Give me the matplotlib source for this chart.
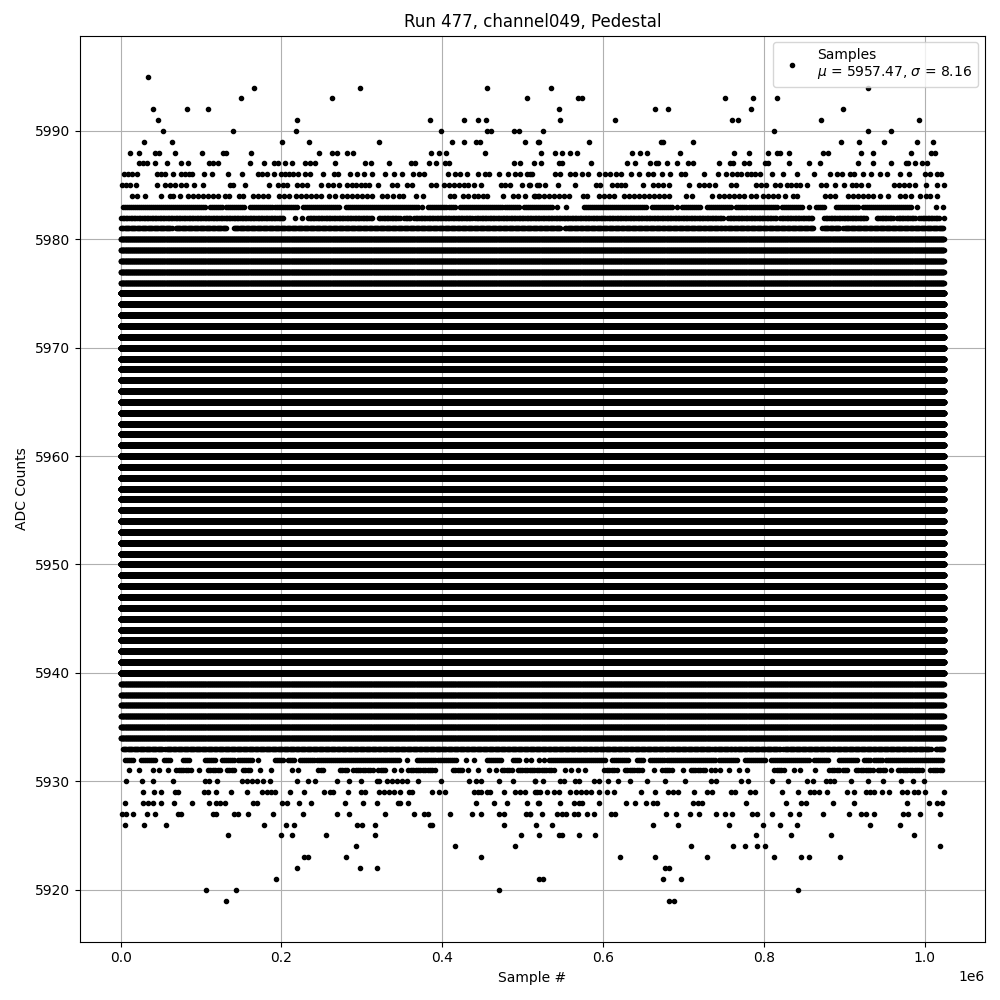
import numpy as np
import matplotlib
matplotlib.use("Agg")
import matplotlib.pyplot as plt

# Sample numbers in thousands, one list per ADC level.
s5995 = [33.7]
s5994 = [165.8, 298, 456, 535, 930]
s5993 = [149.6, 263, 505, 568.5, 573.5, 751.8, 786.7, 816.6]
s5992 = [40, 82.3, 108.5, 544.8, 664.5, 680.7, 784, 898.9]
s5991 = [46, 219.4, 385, 427.7, 445, 455, 547, 614.6, 760.5, 768, 871.5, 993.7]
s5990 = [52.4, 139.6, 218, 399, 456.3, 460.5, 488.7, 495, 525, 813, 930, 958.8]
s5989 = [28.7, 63.6, 200.7, 234.4, 321.7, 412.7, 427.7, 441.4, 447.6, 502.5, 518.7, 521,
         582, 671.6, 674.5, 712, 896.4, 919, 950, 990, 1010]
s5988 = [11.2, 22.4, 42.4, 47.4, 67.3, 101, 127.2, 130.5, 162, 247, 263, 269.3, 281.8, 289.3,
         386.5, 396.5, 405.2, 453.8, 522.4, 539.8, 548.6, 558.5, 567.3, 635.8, 645.8, 654.5,
         695.7, 763, 781.7, 805.4, 816.6, 820.4, 831.6, 874, 880, 921.4, 936.3, 983.7, 1008.6, 1012.4]
s5987 = [22.4, 27.4, 32.4, 42.4, 57.4, 74.8, 83.5, 109.7, 114.7, 121, 160.8, 178.3, 190.8, 195.7,
         204.5, 213.2, 229.4, 235.2, 241.9, 266.8, 304.2, 311.7, 334.1, 361.6, 366.6, 383.6, 392.7,
         404, 409, 489.6, 497, 513.7, 522.4, 544.8, 548.6, 584.7, 629.6, 639.6, 658.3, 665.8, 668.3,
         679.5, 692, 705.7, 712, 744.3, 758, 761.8, 775.5, 781.7, 801.7, 805.4, 831.6, 856.5, 870.2,
         917.6, 936.3, 958.8, 977.5, 980, 988.7, 997.4, 1003.6]
s5986 = [3.7, 8.7, 13.7, 20, 44.9, 49.9, 54.9, 64.8, 74.8, 79.8, 84.8, 88.5, 103.5, 113.5, 133.4,
         150.9, 170.8, 175.8, 182, 190.8, 199.5, 204.5, 209.5, 214.5, 220.7, 229.4, 235.6, 251.9,
         265.6, 270.6, 285.5, 294.2, 303, 313, 329.2, 340.4, 350.4, 364, 371.6, 377.8, 407.7, 416.4,
         422.7, 431.4, 443.9, 453.8, 458.8, 470, 481.3, 490, 496.2, 505.4, 509.5, 511.2, 539.8, 546,
         558.5, 564.8, 573.5, 581, 594.7, 602.2, 608.4, 615.9, 622.1, 634.6, 644.6, 655.8, 662, 673.2,
         683.2, 696.9, 701.9, 725.6, 743, 753, 760.5, 766.8, 771.7, 779.2, 784.2, 789.2, 795.4, 810.4,
         824, 841.6, 862.8, 882.7, 891.4, 897.7, 907.6, 912.6, 923.8, 933.8, 945, 953.8, 970, 981.2,
         1001, 1007.4, 1014.9, 1019.9]
s5985 = [1.2, 6.2, 11.2, 18.7, 44.9, 54.9, 61.1, 67.3, 74.8, 81, 91, 102.2, 135.9, 139.6, 154.6,
         184.5, 195.7, 202, 207, 219.4, 225.7, 231.9, 249.4, 258, 264.3, 271.8, 281.8, 288, 293,
         299.2, 304.2, 309.2, 320.4, 337.9, 344.1, 356.6, 362.8, 386.5, 392.7, 402.7, 409, 415.2,
         421.4, 427.7, 432.6, 440, 448.8, 472.5, 477.5, 483.8, 498.7, 507.4, 509.5, 517.4, 519.9,
         527.4, 543.6, 564.8, 591, 596, 610.9, 617.1, 622.1, 627.1, 649.6, 662, 668.3, 674.5, 682,
         706.9, 719.4, 725.6, 731.9, 739.3, 759.3, 765.5, 790.4, 796.7, 802.9, 814.1, 820.4, 829,
         834, 840.3, 845.3, 854, 871.5, 877.7, 889, 900.2, 910.1, 915.1, 921.4, 930, 962.5, 968.7,
         975, 981.2, 988.7, 1002.4, 1014.9, 1023.9]
s5984 = [13.7, 20, 30, 49.9, 61.1, 64.8, 74, 83.5, 89.8, 96, 102.2, 108.5, 114.7, 121, 129.7, 134.7,
         147.1, 152.1, 164.6, 170.8, 177, 183.3, 197, 203.2, 209.5, 218.2, 224.4, 230.7, 236.9, 243.1,
         249.4, 259.3, 266.8, 275.5, 281.8, 288, 294.2, 300.5, 306.7, 313, 325.4, 331.6, 339.1, 346.6,
         351.6, 367.8, 376.5, 410.2, 415.2, 426.4, 432.6, 438.9, 445, 451.3, 455.5, 475, 487.5, 493.7,
         502.5, 513.7, 515, 518.6, 520, 526.1, 532.4, 538.6, 544.8, 551, 557.3, 574.7, 579.7, 594.7,
         600.9, 607.2, 613.4, 625.9, 632.1, 638.3, 644.6, 650.8, 657, 663.3, 669.5, 675.7, 682, 703.2,
         710.7, 735.6, 744.3, 750.5, 756.8, 763, 769.2, 775.5, 784.2, 790.4, 799.2, 805.4, 811.6, 817.9,
         826.6, 836.6, 841.6, 876.5, 882.7, 889, 905.1, 911.4, 917.6, 923.8, 930, 936.3, 945, 955, 970,
         976.2, 983.7, 994.9, 1001.2, 1007.4, 1014.9]
s5930 = [6.6, 26.2, 39.9, 64.8, 104.3, 109.7, 119.7, 150.9, 157.1, 163.3, 169.6, 177, 185.8, 219.4,
         233, 241.9, 269.3, 283.9, 298.8, 319.2, 321.7, 331.6, 337.9, 344.1, 350.4, 356.6, 370.3, 399,
         433.9, 441.4, 448.8, 470, 487.5, 514.9, 515, 524.9, 546.9, 551, 565.6, 570.6, 588.5, 595.5,
         605.9, 618.4, 633.4, 654.5, 677, 701.9, 734.8, 741, 771.7, 780.5, 810.4, 830.3, 854, 861.5,
         877.3, 882.7, 887.7, 908.9, 930, 948.8, 971.2, 986.2, 998.7]
s5929 = [27.4, 41.1, 49.9, 67.3, 71.9, 103.5, 108.5, 118.4, 136.7, 157.1, 175.8, 182, 187, 192, 210.7,
         228.2, 253, 260.6, 264.3, 283, 298.4, 304.2, 321.7, 327.9, 334.1, 340.4, 347.9, 359, 362.8,
         387.3, 396.5, 404, 438.9, 445, 448.8, 455.5, 459.6, 476.3, 490, 496.2, 502.5, 515.7, 517.4,
         521.1, 529.9, 538.6, 544.8, 558.5, 566, 572.3, 578.5, 584.7, 594.7, 604.7, 613.4, 647.1, 664.5,
         680.7, 687, 693.2, 713.1, 729.8, 736, 759.3, 764.3, 783, 789.2, 822.9, 842.8, 857.8, 862.8,
         869, 879, 903.9, 912.6, 927.6, 932.6, 937.6, 946.7, 956.3, 972.5, 978.7, 987.4, 992.4, 1000, 1024]
s5928 = [5, 27.4, 33.7, 39.9, 49.9, 66, 88.5, 109.7, 118.4, 123.4, 129.7, 164.6, 169.6, 200.7, 207,
         221.9, 236.9, 279.3, 301.7, 319.2, 345.4, 347.9, 357.8, 441.4, 465, 480, 505, 518.7, 519.9,
         546, 563.5, 569.8, 573.9, 594.7, 628.4, 639.6, 653.3, 662, 667, 711.9, 718.1, 723.1, 778,
         827.8, 846.6, 852.8, 886.4, 912.6, 978.7, 1006.1, 1015.3, 1021.5]
s5927 = [1.2, 6.2, 15, 32.4, 42.4, 71, 74.8, 114.7, 118.4, 140.9, 145.9, 158.3, 189.5, 226.9, 269.3,
         284.3, 329.2, 365.3, 377.8, 382.8, 410.2, 437.6, 448.8, 470, 476.3, 503.7, 508.7, 509.5, 524,
         542.3, 548.6, 553.6, 563.5, 568.5, 579.7, 588.5, 609.7, 614.6, 678.2, 690.7, 708.2, 719.4,
         740.6, 751.8, 760.9, 785.5, 791.7, 810.4, 832.8, 844, 874, 906.4, 921.4, 927.6, 937.6, 973.7,
         980, 994.9, 1018.6]
s5926 = [5, 29.5, 56, 178.3, 205.7, 215.7, 294.2, 300.5, 316.7, 385.3, 387.8, 476.3, 516.2, 536, 662,
         693.2, 756.8, 799.2, 820.4, 841.6, 932.6, 970]
s5925 = [133.4, 199.5, 213.2, 255.6, 316.7, 497.5, 521, 544.8, 548.6, 569.8, 589.7, 790.4, 834, 884, 987.4]
s5924 = [293, 416.4, 490, 709.4, 761.8, 776.7, 791.7, 801.7, 1019.8]
s5923 = [228.2, 233, 280.5, 448.8, 620.9, 664.5, 729.4, 812.9, 846.6, 856.5, 895.2]
s5922 = [219.4, 298, 319.2, 677, 682]
s5921 = [193.3, 520, 524.9, 674.5, 697]
s5920 = [106, 143.4, 470, 842.8]
s5919 = [130.9, 682, 688.2]

# Runs of consecutive samples (start, end in thousands) on the nearly solid levels.
r5983 = [(2.5, 105.6), (110.6, 126), (131.3, 155.4), (160.4, 188.3), (191.6, 220), (227, 273.5),
         (279.7, 370.3), (375.3, 375.4), (382.8, 417), (422, 475.5), (478.4, 498), (501.2, 538.6),
         (543, 543.1), (553.8, 553.9), (576, 655), (661, 686), (692, 692.1), (698.6, 723.5),
         (729.8, 761.8), (766, 818), (823, 848), (856.5, 856.6), (865, 876.5), (889.8, 919),
         (923, 985.4), (990.3, 990.4), (1014.4, 1014.5), (1022.8, 1022.9)]
r5982 = [(0.4, 204), (217, 218), (225, 225.1), (233, 314), (321, 347.5), (352.4, 360.7), (365, 437),
         (441, 750.5), (755.5, 816), (820.4, 860.7), (875.2, 929), (940.5, 961.7), (965.8, 989.5),
         (993.7, 1018.6), (1023.9, 1024)]
r5981 = [(0.4, 64), (68.2, 132), (140.5, 547), (553, 748.5), (750.5, 862), (873, 894), (899, 1024)]
r5933 = [(2.5, 53), (55.7, 736), (738, 761), (763, 821), (824.5, 1008), (1014.4, 1024)]
r5932 = [(5, 17), (25.4, 43.2), (54.4, 62.8), (78, 87), (105, 119.7), (126, 143), (146, 164.6),
         (170.8, 170.9), (191.6, 202.8), (208, 217.8), (223.6, 346.6), (356.6, 356.7), (368.2, 391),
         (395, 418), (430, 430.1), (439, 439.1), (455.5, 474.2), (487.5, 497), (504, 504.1),
         (510.4, 510.5), (520, 520.1), (526, 526.1), (532.4, 603), (611.3, 633.4), (642.5, 650.8),
         (659, 740), (744.3, 767), (776.3, 802.5), (808.7, 856.5), (862, 881.5), (894, 916.8),
         (925, 933.4), (937.6, 948), (952, 1024)]
r5931 = [(10, 10.1), (22.4, 22.5), (39.9, 40), (47.4, 47.5), (59.4, 59.5), (69, 89.8), (97.3, 97.4),
         (108.5, 124.3), (132.2, 141.7), (152, 161.7), (173.3, 173.4), (187, 187.1), (212.8, 212.9),
         (220.7, 220.8), (245.6, 254), (272.6, 283), (289.3, 314.2), (320.4, 330.8), (340.4, 340.5),
         (348.7, 348.8), (357.8, 391), (413, 426.4), (432.6, 432.7), (443.9, 444), (457.6, 457.7),
         (466.3, 466.4), (474.2, 486.7), (493.7, 540.7), (552.3, 552.4), (559.8, 559.9), (568.5, 568.6),
         (577.2, 577.3), (601.8, 618.4), (627, 648.7), (663.3, 663.4), (673.7, 688.2), (699, 699.1),
         (709, 727.7), (733.9, 734), (739.3, 739.4), (745.6, 745.7), (756.8, 756.9), (769.2, 769.3),
         (779.2, 779.3), (812.9, 827.4), (837.8, 837.9), (845.3, 845.4), (863.6, 863.7), (881.5, 894),
         (898, 906.4), (914.7, 937.6), (941.7, 952), (958.4, 958.5), (966.7, 997.8), (1007, 1024)]

# Spacing of samples (thousands) on levels filled across the whole run.
core_levels = list(range(5940, 5976))
shoulder_levels = [5934, 5935, 5936, 5937, 5938, 5939, 5976, 5977, 5978, 5979, 5980]
n_samples_k = 1024

sparse = {5995: s5995, 5994: s5994, 5993: s5993, 5992: s5992, 5991: s5991, 5990: s5990, 5989: s5989,
          5988: s5988, 5987: s5987, 5986: s5986, 5985: s5985, 5984: s5984, 5930: s5930, 5929: s5929,
          5928: s5928, 5927: s5927, 5926: s5926, 5925: s5925, 5924: s5924, 5923: s5923, 5922: s5922,
          5921: s5921, 5920: s5920, 5919: s5919}
runs = {5983: r5983, 5982: r5982, 5981: r5981, 5933: r5933, 5932: r5932, 5931: r5931}
run_step = {5983: 2.5, 5982: 2.0, 5981: 1.5, 5933: 1.5, 5932: 2.5, 5931: 3.0}

xs, ys = [], []
for level, vals in sparse.items():
    xs.append(np.array(vals, float))
    ys.append(np.full(len(vals), level))
for level, spans in runs.items():
    for a, b in spans:
        seg = np.arange(a, b + 0.01, run_step[level])
        xs.append(seg)
        ys.append(np.full(len(seg), level))
for level in shoulder_levels:
    seg = np.arange(0, n_samples_k + 0.01, 0.5)
    xs.append(seg)
    ys.append(np.full(len(seg), level))
for level in core_levels:
    seg = np.arange(0, n_samples_k + 0.01, 0.05)
    xs.append(seg)
    ys.append(np.full(len(seg), level))
x = np.concatenate(xs) * 1000
y = np.concatenate(ys)

fig, ax = plt.subplots(figsize=(10, 10), dpi=100)
ax.plot(x, y, '.', color='black', label='Samples\n$\\mu$ = 5957.47, $\\sigma$ = 8.16')
ax.set_title('Run 477, channel049, Pedestal')
ax.set_xlabel('Sample #')
ax.set_ylabel('ADC Counts')
ax.grid(True)
ax.legend(loc='upper right')
fig.tight_layout()
fig.subplots_adjust(top=0.9645)
fig.savefig('out.png', dpi=100)
